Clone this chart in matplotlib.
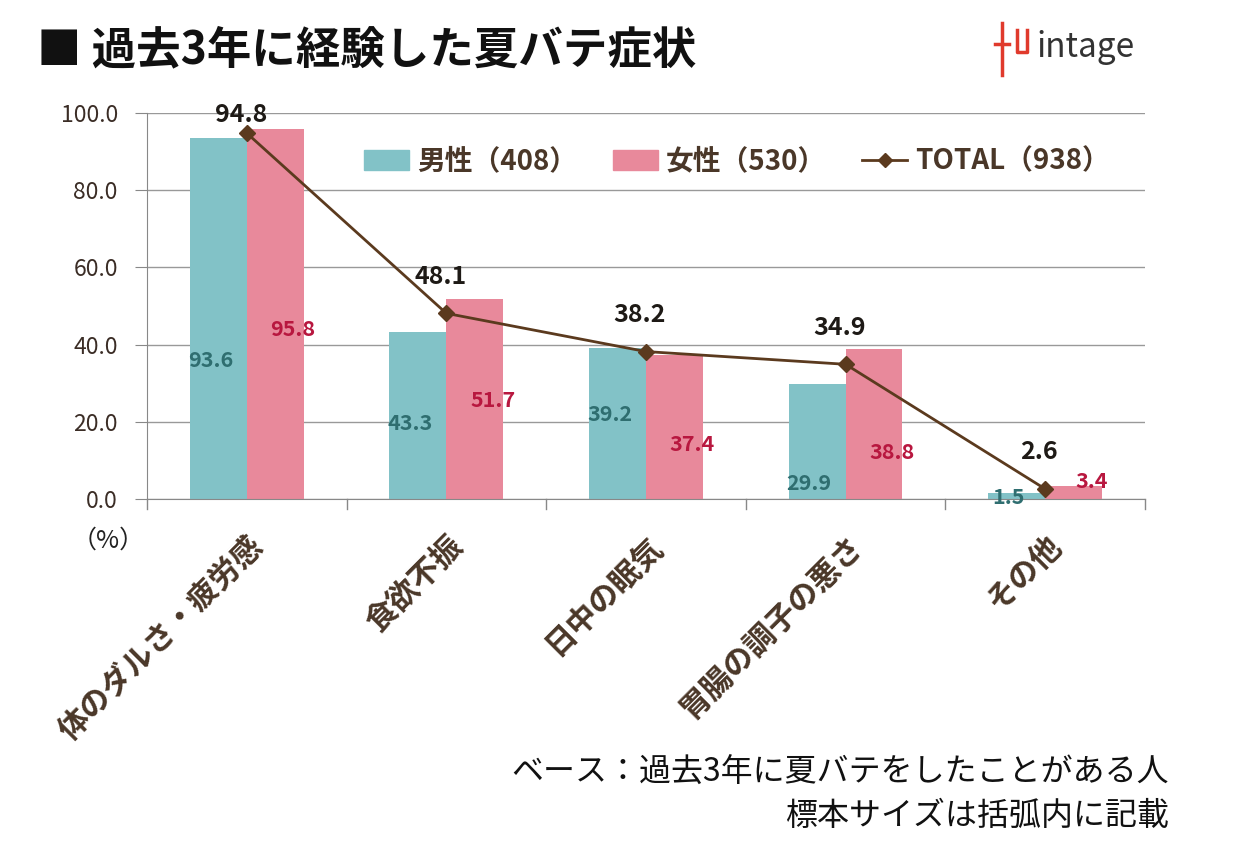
import numpy as np
import matplotlib
matplotlib.use("Agg")
import matplotlib.pyplot as plt
from matplotlib.lines import Line2D
from matplotlib.patches import Patch

plt.rcParams['font.family'] = ['Noto Sans CJK JP', 'DejaVu Sans']

categories = ["体のダルさ・疲労感", "食欲不振", "日中の眠気", "胃腸の調子の悪さ", "その他"]
male = [93.6, 43.3, 39.2, 29.9, 1.5]
female = [95.8, 51.7, 37.4, 38.8, 3.4]
total = [94.8, 48.1, 38.2, 34.9, 2.6]
legend_labels = ["男性（408）", "女性（530）", "TOTAL（938）"]

# label heights (where the data labels sit inside the chart)
male_label_y = [36, 19.5, 22, 4, 0.5]
female_label_y = [44, 25.6, 14, 12, 4.5]

teal = "#82c2c7"
pink = "#e8899b"
brown = "#5b3a1e"
text_brown = "#4a3728"

fig = plt.figure(figsize=(12.37, 8.63), dpi=100)
ax = fig.add_axes([0.1188, 0.4218, 0.8068, 0.4472])

x = np.arange(len(categories))
w = 0.285
ax.bar(x - w / 2, male, w, color=teal, zorder=2)
ax.bar(x + w / 2, female, w, color=pink, zorder=2)
ax.plot(x, total, color=brown, lw=2, marker="D", ms=8, zorder=3)

ax.set_xlim(-0.5, len(categories) - 0.5)
ax.set_ylim(0, 100)
ax.set_yticks(np.arange(0, 101, 20))
ax.set_yticklabels([f"{v:.1f}" for v in np.arange(0, 101, 20)], fontsize=16.5, color="#3b2d26")
ax.yaxis.grid(True, color="#999999", lw=1, zorder=0)
ax.tick_params(axis="y", length=9, color="#888888", pad=12)
ax.tick_params(axis="x", length=0)
ax.set_xticks([])
for s in ["top", "right"]:
    ax.spines[s].set_visible(False)
ax.spines["left"].set_color("#888888")
ax.spines["bottom"].set_color("#888888")
ax.spines["left"].set_bounds(0, 100)

# category separators below the axis
for b in np.arange(-0.5, len(categories), 1.0):
    ax.plot([b, b], [0, -2.6], color="#888888", lw=1, clip_on=False)

for i in range(len(categories)):
    ax.text(x[i] - w / 2 - 0.04, male_label_y[i], f"{male[i]:.1f}", ha="center", va="center",
            fontsize=15.5, color="#2f6e70", fontweight="bold")
    ax.text(x[i] + w / 2 + 0.09, female_label_y[i], f"{female[i]:.1f}", ha="center", va="center",
            fontsize=15.5, color="#b8173f", fontweight="bold")
    ax.text(x[i] - 0.03, min(total[i] + 9.5, 99.6), f"{total[i]:.1f}", ha="center", va="center",
            fontsize=18, color="#1e1a16", fontweight="bold")
    ax.text(x[i] + 0.0, -8, categories[i], rotation=45, ha="right", va="top",
            rotation_mode="anchor", fontsize=22, fontweight="bold", color=text_brown)

handles = [Patch(color=teal), Patch(color=pink),
           Line2D([], [], color=brown, lw=2, marker="D", ms=7)]
ax.legend(handles, legend_labels, loc="upper right", bbox_to_anchor=(0.99, 0.975), ncol=3,
          frameon=False, prop={"size": 20, "weight": "bold"}, labelcolor=text_brown,
          handlelength=1.6, handletextpad=0.3, columnspacing=1.3)

fig.text(0.058, 0.374, "（%）", fontsize=18, color="#222222", ha="left", va="center")

fig.text(0.030, 0.942, "■ 過去3年に経験した夏バテ症状", fontsize=32, fontweight="bold",
         color="#111111", ha="left", va="center")

# logo
fig.text(0.838, 0.945, "intage", fontsize=24, color="#333333", ha="left", va="center")
lx, ly = 0.810, 0.945
fig.lines.append(Line2D([lx - 0.006, lx + 0.006], [ly + 0.004, ly + 0.004], color="#e03a2c", lw=2.5, transform=fig.transFigure))
fig.lines.append(Line2D([lx, lx], [ly + 0.028, ly - 0.032], color="#e03a2c", lw=2.5, transform=fig.transFigure))
fig.lines.append(Line2D([lx + 0.012, lx + 0.012, lx + 0.020, lx + 0.020], [ly + 0.020, ly - 0.005, ly - 0.005, ly + 0.020], color="#e03a2c", lw=2.5, transform=fig.transFigure))

fig.text(0.945, 0.104, "ベース：過去3年に夏バテをしたことがある人", fontsize=23,
         color="#111111", ha="right", va="center")
fig.text(0.945, 0.054, "標本サイズは括弧内に記載", fontsize=23,
         color="#111111", ha="right", va="center")

fig.savefig("out.png", dpi=100)
